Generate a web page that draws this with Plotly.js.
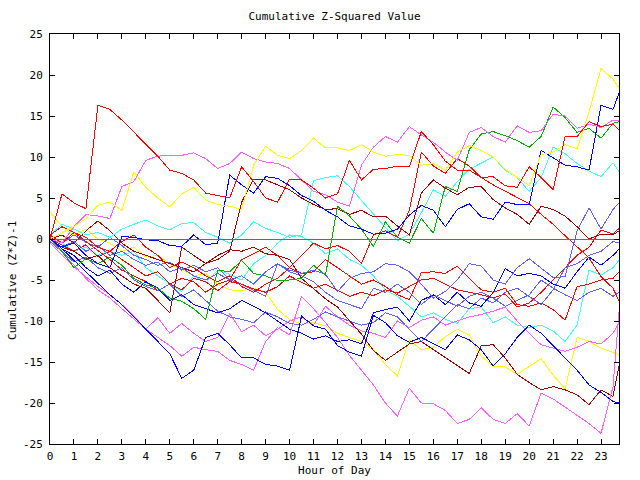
<!DOCTYPE html>
<html>
<head>
<meta charset="utf-8">
<script src="https://cdn.plot.ly/plotly-3.0.1.min.js"></script>
<style>
html,body{margin:0;padding:0;background:#fff;}
#chart path.js-line{shape-rendering:crispEdges;}
</style>
</head>
<body>
<div id="chart" style="width:640px;height:480px;"></div>
<script>
// ---- data (hour of day, cumulative (Z*Z)-1 values) ----
const hours = [0,0.5,1,1.5,2,2.5,3,3.5,4,4.5,5,5.5,6,6.5,7,7.5,8,8.5,9,9.5,10,10.5,11,11.5,12,12.5,13,13.5,14,14.5,15,15.5,16,16.5,17,17.5,18,18.5,19,19.5,20,20.5,21,21.5,22,22.5,23,23.5,23.75];

const red1 = [0,5.5,4.4,3.7,16.3,15.8,14.5,13.0,11.6,10.1, 8.4,8.0,7.2,5.6,5.3,5.0,8.8,7.0,5.0,4.5, 7.3,7.2,6.2,5.0,5.5,9.6,7.2,8.5,8.6,8.9, 8.8,13.1,11.5,9.5,8.4,8.4,7.5,7.6,6.5,6.3, 8.8,7.5,6.0,12.5,12.5,14.3,13.7,14.0,13.3];
const red2 = [0.5,1.5,0.8,0.2,-1.0,-1.5,-0.3,0.5,-1.0,-2.0, -3.5,-2.8,-3.5,-4.5,-5.2,-4.5,-5.8,-6.5,-5.5,-4.8, -3.5,-2.0,-0.5,-1.2,-0.8,-1.5,-3.0,0.5,1.0,0.2, 3.5,10.6,8.9,8.0,9.8,8.9,7.5,6.6,5.8,5.0, 4.3,3.0,1.8,0.4,-0.9,-2.3,-4.6,-6.0,-7.6];
const red3 = [0,-0.8,-1.5,-0.7,-2.2,-1.5,-2.5,-3.5,-4.5,-4.0, -5.5,-4.8,-5.2,-6.5,-5.5,-5.0,-2.5,-1.8,-1.0,-2.0, -3.5,-4.2,-4.0,-2.5,-3.5,-4.5,-5.5,-5.0,-5.8,-6.8, -7.4,-4.1,-4.0,-4.2,-3.3,-4.8,-6.2,-6.5,-6.0,-8.0, -8.2,-7.8,-8.6,-9.9,-5.8,-5.5,-5.0,-4.8,-4.0];
const red4 = [0.5,-0.5,0.8,-0.3,-1.3,-2.5,-3.8,-4.5,-5.2,-6.3, -5.5,-6.2,-4.8,-5.2,-6.3,-5.2,-5.5,-6.1,-6.5,-5.8, -4.5,-5.3,-6.0,-5.5,-6.3,-7.0,-6.5,-6.9,-6.2,-6.6, -5.8,-5.0,-4.8,-5.5,-6.2,-6.5,-6.8,-7.2,-6.7,-8.3, -7.8,-6.5,-5.0,-3.5,-2.0,-1.0,1.1,0.6,1.3];
const darkred1 = [0,0.5,-0.5,1.0,2.2,1.0,-0.5,-1.5,-2.0,-2.5, -3.0,-3.5,-4.0,-3.0,-2.0,-1.3,-1.5,-1.0,-1.8,-2.0, -2.5,-4.8,-6.1,-7.3,-8.3,-10.0,-11.6,-13.6,-14.8,-13.8, -12.8,-12.5,-13.5,-14.5,-15.5,-16.4,-13.0,-12.9,-14.5,-16.5, -17.5,-18.4,-18.0,-18.4,-19.0,-20.2,-18.4,-19.2,-15.5];
const darkred2 = [0,-1.0,-1.5,-2.5,-2.0,-3.5,-4.5,-5.5,-6.0,-7.5, -9.0,-1.0,-2.0,-3.0,-2.5,-1.5,4.5,7.3,7.2,6.6, 6.0,5.0,4.2,3.6,3.7,3.0,3.5,2.7,2.8,1.6, 0.5,5.6,7.2,6.2,5.4,6.3,6.4,4.8,3.8,3.0, 1.8,4.0,3.6,2.8,1.5,0.0,0.6,0.5,1.0];
const green1 = [0,-1.5,-3.5,-2.4,-3.0,-2.2,-3.2,-4.8,-5.6,-6.0, -7.2,-7.6,-8.5,-9.8,-3.8,-4.0,-2.6,-4.2,-4.5,-5.1, -5.0,-4.8,-3.2,-4.4,4.0,2.8,1.2,-0.9,2.1,0.2, -0.5,2.5,0.7,6.4,5.8,10.9,12.8,13.1,12.6,12.0, 11.2,12.5,16.1,14.8,13.0,13.5,12.3,14.1,14.3];
const blue1 = [0,-1.0,-0.5,-2.0,-3.0,-3.5,0.3,0.2,-0.1,-0.2, -0.8,-0.9,0.5,-0.7,-0.5,7.8,6.6,5.6,7.6,7.4, 6.5,5.3,4.6,3.5,2.7,1.6,1.2,0.6,0.7,1.2, 2.9,4.1,3.5,1.5,3.6,4.3,2.7,2.4,4.5,4.2, 4.2,10.8,9.9,9.0,8.8,8.4,16.3,15.8,17.8];
const blue2 = [0,-1.2,-2.6,-4.0,-5.4,-6.8,-8.0,-9.5,-11.0,-12.5, -14.0,-17.0,-16.0,-12.0,-11.5,-12.9,-14.5,-14.5,-15.3,-15.5, -16.0,-9.4,-10.6,-11.0,-13.0,-13.8,-14.3,-9.3,-10.2,-11.8, -12.6,-12.0,-12.8,-13.5,-11.7,-12.3,-13.5,-15.5,-14.0,-12.0, -10.5,-11.5,-13.0,-14.5,-16.0,-17.8,-18.7,-19.8,-20.0];
const blue3 = [0,-1.2,-2.0,-3.5,-4.5,-3.8,-5.5,-6.5,-5.2,-6.0, -7.5,-6.8,-8.0,-8.5,-9.0,-8.5,-7.5,-8.2,-9.0,-10.0, -11.0,-11.5,-12.2,-11.8,-12.5,-12.3,-12.8,-9.0,-8.6,-8.3, -10.0,-7.5,-6.8,-8.0,-6.5,-7.8,-8.2,-6.5,-3.6,-4.5, -4.2,-4.5,-5.5,-6.0,-4.0,-2.2,-3.2,-2.0,-1.25];
const slate1 = [0,-1.0,-0.3,-1.5,-0.8,-2.0,-1.5,-2.5,-3.2,-2.8, -4.0,-3.5,-4.5,-5.0,-4.2,-5.0,-4.5,-5.5,-4.0,-3.0, -3.8,-4.2,-3.8,-4.3,-6.4,-4.8,-4.2,-4.0,-3.0,-3.2, -4.0,-5.5,-7.2,-6.4,-5.0,-3.0,-3.3,-5.0,-5.5,-3.5, -2.4,-3.5,-4.7,-4.6,1.0,3.8,1.2,3.6,4.4];
const slate2 = [-0.3,-1.5,-2.8,-2.2,-3.5,-4.2,-3.5,-5.0,-5.8,-6.3, -5.5,-7.0,-6.2,-7.5,-8.8,-9.5,-9.8,-10.2,-8.9,-9.5, -10.3,-10.5,-9.8,-8.9,-9.5,-10.0,-10.5,-10.2,-9.0,-9.5, -11.0,-12.5,-11.0,-9.5,-8.0,-8.5,-7.2,-7.8,-6.5,-6.0, -7.0,-8.0,-6.2,-3.5,-3.0,-2.0,-1.5,-0.3,-0.5];
const slate3 = [0,-0.5,0.5,-0.4,-1.0,0.2,-0.8,-2.0,-2.5,-3.2, -2.8,-3.8,-3.2,-4.0,-3.5,-5.0,-5.5,-6.3,-7.0,-3.0, -4.0,-4.5,-5.2,-6.5,-7.5,-8.0,-8.5,-6.0,-6.5,-5.5, -6.5,-8.0,-6.8,-7.5,-8.2,-7.0,-6.5,-7.2,-8.2,-7.5, -6.8,-5.0,-6.0,-6.8,-7.5,-6.5,-6.0,-7.0,-6.5];
const magenta1 = [0,-0.5,1.5,3.0,2.8,2.5,6.4,7.0,9.6,10.1, 10.2,10.2,10.5,9.8,8.6,9.2,10.6,9.8,9.4,9.2, 8.6,7.2,5.8,5.4,4.5,4.0,9.0,11.2,12.5,11.8, 13.7,12.7,11.8,10.6,9.6,13.0,13.6,12.5,11.8,13.8, 13.0,13.2,15.2,15.0,13.5,14.0,13.6,14.5,14.5];
const magenta2 = [0,-1.6,-3.2,-4.8,-6.2,-7.2,-8.5,-9.8,-11.0,-12.0, -13.0,-14.3,-13.2,-13.5,-13.7,-14.8,-15.3,-16.0,-12.5,-10.8, -11.7,-7.0,-8.5,-10.2,-12.0,-14.2,-16.0,-17.8,-20.0,-21.6, -18.2,-20.0,-20.1,-20.9,-22.5,-22.0,-20.6,-22.0,-22.5,-21.3, -22.8,-18.8,-19.5,-20.5,-21.5,-22.5,-23.7,-18.0,-8.9];
const magenta3 = [-0.5,-2.0,-3.4,-4.6,-5.8,-6.8,-8.0,-9.4,-11.0,-9.6, -11.5,-10.3,-11.5,-12.5,-12.0,-9.1,-11.3,-10.5,-11.8,-11.0, -10.0,-9.5,-10.5,-8.2,-9.5,-10.5,-11.2,-11.5,-12.0,-10.0, -10.8,-9.9,-9.5,-10.5,-10.0,-9.5,-9.2,-8.8,-8.3,-10.0, -11.5,-12.9,-13.3,-13.7,-13.2,-12.5,-12.8,-11.5,-10.2];
const cyan1 = [0.5,1.8,1.2,0.5,0.8,0.2,1.2,1.8,2.3,1.6, 1.1,1.9,2.0,0.8,0.2,-0.5,0.5,2.1,1.3,0.8, 0.2,0.5,7.1,7.5,7.7,6.4,4.7,3.0,1.4,-0.2, 0.6,3.2,6.0,5.2,7.0,8.5,9.2,10.0,8.4,7.5, 5.8,7.5,11.2,10.4,9.2,8.3,7.6,9.3,8.2];
const cyan2 = [0.5,-0.5,-1.5,-1.0,-2.0,-1.5,-2.0,-1.5,-3.5,-4.5, -5.5,-6.4,-4.5,-5.3,-3.8,-4.3,-5.0,-3.0,-2.0,-0.5, 0.5,0.3,-0.5,-1.8,-1.2,-2.5,-3.2,-4.5,-6.2,-7.0, -8.2,-9.5,-9.0,-9.8,-10.3,-8.5,-8.3,-10.2,-9.5,-10.5, -10.8,-10.5,-11.2,-12.5,-10.5,-3.8,-4.4,-3.5,-2.6];
const yellow1 = [0,0.8,1.5,2.5,4.1,4.5,3.5,8.2,6.3,5.0, 3.9,5.5,6.3,4.75,4.2,4.0,3.6,9.0,11.3,10.2, 9.8,10.8,12.3,11.1,11.1,10.8,11.5,10.6,10.1,10.3, 10.2,9.0,9.2,8.4,10.6,11.4,10.8,10.0,8.5,7.5, 6.5,10.3,10.6,11.5,11.0,15.5,20.8,19.5,18.4];
const yellow2 = [3.3,1.5,0.5,1.2,0.0,-0.5,-1.5,-1.0,-2.2,-2.0, -3.0,-3.8,-4.5,-4.2,-5.5,-6.2,-6.3,-6.0,-6.5,-8.6, -9.8,-10.4,-10.2,-10.6,-11.5,-12.0,-12.5,-13.5,-15.3,-16.7, -12.3,-13.5,-13.2,-11.9,-11.0,-11.7,-14.3,-15.5,-15.6,-16.5, -15.5,-14.6,-16.6,-18.3,-12.0,-12.5,-13.3,-13.8,-14.1];

const xTickVals = [0,1,2,3,4,5,6,7,8,9,10,11,12,13,14,15,16,17,18,19,20,21,22,23];
const xTickText = ["0","1","2","3","4","5","6","7","8","9","10","11","12","13","14","15","16","17","18","19","20","21","22","23"];
const yTickVals = [-25,-20,-15,-10,-5,0,5,10,15,20,25];
const yTickText = ["-25","-20","-15","-10","-5","0","5","10","15","20","25"];

// ---- styling ----
const C = {
  red: "#ff0000", darkred: "#a00000", green: "#00b000", blue: "#0000ff",
  slate: "#6060ff", magenta: "#ff60ff", cyan: "#40ffff", yellow: "#ffff00"
};
const seriesList = [
  [yellow2, C.yellow], [cyan2, C.cyan], [slate3, C.slate], [magenta3, C.magenta],
  [red4, C.red], [slate2, C.slate], [blue3, C.blue], [darkred1, C.darkred],
  [magenta2, C.magenta], [blue2, C.blue], [red3, C.red], [slate1, C.slate],
  [cyan1, C.cyan], [darkred2, C.darkred], [red2, C.red], [green1, C.green],
  [blue1, C.blue], [magenta1, C.magenta], [yellow1, C.yellow], [red1, C.red]
];

const traces = seriesList.map(([vals, color]) => ({
  x: hours, y: vals, type: "scatter", mode: "lines",
  line: {color: color, width: 1}, hoverinfo: "skip"
}));

const fontFam = "DejaVu Sans Mono, monospace";
const axisCommon = {
  showgrid: false, zeroline: false, showline: true, linecolor: "#000", linewidth: 1,
  mirror: "ticks", ticks: "inside", ticklen: 5, tickwidth: 1, tickcolor: "#000",
  tickfont: {family: fontFam, size: 11, color: "#000"}, fixedrange: true
};

const layout = {
  width: 640, height: 480,
  margin: {l: 50, r: 21, t: 34, b: 36, pad: 0},
  paper_bgcolor: "#fff", plot_bgcolor: "#fff",
  showlegend: false,
  font: {family: fontFam, size: 11, color: "#000"},
  title: {text: "Cumulative Z-Squared Value", font: {family: fontFam, size: 11, color: "#000"},
          x: 0.5, xref: "paper", xanchor: "center", y: 1 - 16/480, yref: "container", yanchor: "middle"},
  xaxis: Object.assign({}, axisCommon, {
    range: [0, 23.75], tickmode: "array", tickvals: xTickVals, ticktext: xTickText,
    ticklabelstandoff: 2,
    title: {text: "Hour of Day", font: {family: fontFam, size: 11, color: "#000"}, standoff: 4}
  }),
  yaxis: Object.assign({}, axisCommon, {
    range: [-25, 25], tickmode: "array", tickvals: yTickVals, ticktext: yTickText,
    ticklabelstandoff: 4,
    zeroline: true, zerolinecolor: "#00b000", zerolinewidth: 1, zerolinelayer: "above traces"
  }),
  annotations: [{
    text: "Cumulative (Z*Z)-1", textangle: -90, showarrow: false,
    xref: "paper", yref: "paper", x: -0.067, y: 0.40, xanchor: "center", yanchor: "middle",
    font: {family: fontFam, size: 11, color: "#000"}
  }]
};

Plotly.newPlot("chart", traces, layout, {staticPlot: true, displayModeBar: false});
</script>
</body>
</html>
